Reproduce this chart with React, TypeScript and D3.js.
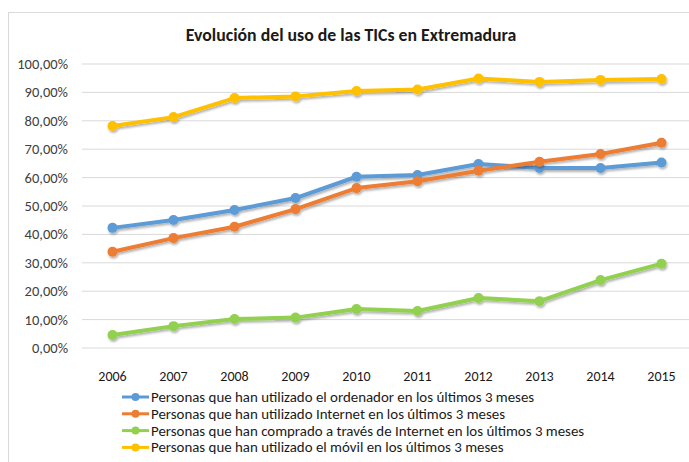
import React from "react";
import * as d3 from "d3";

const years = ["2006", "2007", "2008", "2009", "2010", "2011", "2012", "2013", "2014", "2015"];
const ordenador = [42.3, 45.1, 48.6, 52.8, 60.3, 60.9, 64.8, 63.4, 63.4, 65.3];
const internet = [33.9, 38.7, 42.7, 48.9, 56.3, 58.7, 62.4, 65.6, 68.3, 72.3];
const compras = [4.6, 7.7, 10.2, 10.7, 13.7, 13.0, 17.6, 16.5, 23.9, 29.7];
const movil = [78.2, 81.3, 88.0, 88.6, 90.5, 91.0, 94.9, 93.7, 94.4, 94.7];
const yTicks = [0, 10, 20, 30, 40, 50, 60, 70, 80, 90, 100];

const series = [
  { name: "Personas que han utilizado el ordenador en los últimos 3 meses", values: ordenador, color: "#5B9BD5" },
  { name: "Personas que han utilizado Internet en los últimos 3 meses", values: internet, color: "#ED7D31" },
  { name: "Personas que han comprado a través de Internet en los últimos 3 meses", values: compras, color: "#92D050" },
  { name: "Personas que han utilizado el móvil en los últimos 3 meses", values: movil, color: "#FFC000" },
];

const W = 689;
const H = 462;
const font = "Carlito, Lato, 'Open Sans', sans-serif";

export default function App() {
  const x = d3.scaleBand<string>().domain(years).range([82, 692]);
  const y = d3.scaleLinear().domain([0, 100]).range([348, 64]);
  const cx = (d: string) => (x(d) as number) + x.bandwidth() / 2;
  const line = d3
    .line<number>()
    .x((_, i) => cx(years[i]))
    .y((v) => y(v));
  const fmt = (v: number) => v.toFixed(2).replace(".", ",") + "%";

  return (
    <svg width={W} height={H} style={{ position: "absolute", left: 0, top: 0 }}>
      <defs>
        <filter id="sh" x="-20%" y="-20%" width="140%" height="160%">
          <feDropShadow dx="1" dy="2" stdDeviation="1.2" floodColor="#000" floodOpacity="0.3" />
        </filter>
      </defs>
      <rect x={0} y={0} width={W} height={H} fill="#fff" />
      <rect x={8.5} y={12.5} width={W} height={H} fill="#fff" stroke="#d9d9d9" />
      <text x={351} y={41} textAnchor="middle" fontFamily={font} fontWeight="bold" fontSize={17.8} fill="#1a1a1a">
        Evolución del uso de las TICs en Extremadura
      </text>
      {yTicks.map((t) => (
        <g key={t}>
          <line x1={82} x2={W} y1={y(t)} y2={y(t)} stroke="#d9d9d9" />
          <text x={68} y={y(t) + 5} textAnchor="end" fontFamily={font} fontSize={14.5} fill="#404040">
            {fmt(t)}
          </text>
        </g>
      ))}
      {years.map((yr) => (
        <text key={yr} x={cx(yr)} y={381} textAnchor="middle" fontFamily={font} fontSize={14} fill="#1a1a1a">
          {yr}
        </text>
      ))}
      {series.map((s) => (
        <g key={s.name} filter="url(#sh)">
          <path d={line(s.values) || ""} fill="none" stroke={s.color} strokeWidth={4} strokeLinejoin="round" strokeLinecap="round" />
          {s.values.map((v, i) => (
            <circle key={i} cx={cx(years[i])} cy={y(v)} r={5} fill={s.color} />
          ))}
        </g>
      ))}
      {series.map((s, i) => {
        const ly = 397 + i * 16.8;
        return (
          <g key={s.name}>
            <line x1={122} x2={149} y1={ly} y2={ly} stroke={s.color} strokeWidth={3} />
            <circle cx={135.5} cy={ly} r={4} fill={s.color} />
            <text x={151} y={ly + 5} fontFamily={font} fontSize={14.9} fill="#1a1a1a">
              {s.name}
            </text>
          </g>
        );
      })}
    </svg>
  );
}
